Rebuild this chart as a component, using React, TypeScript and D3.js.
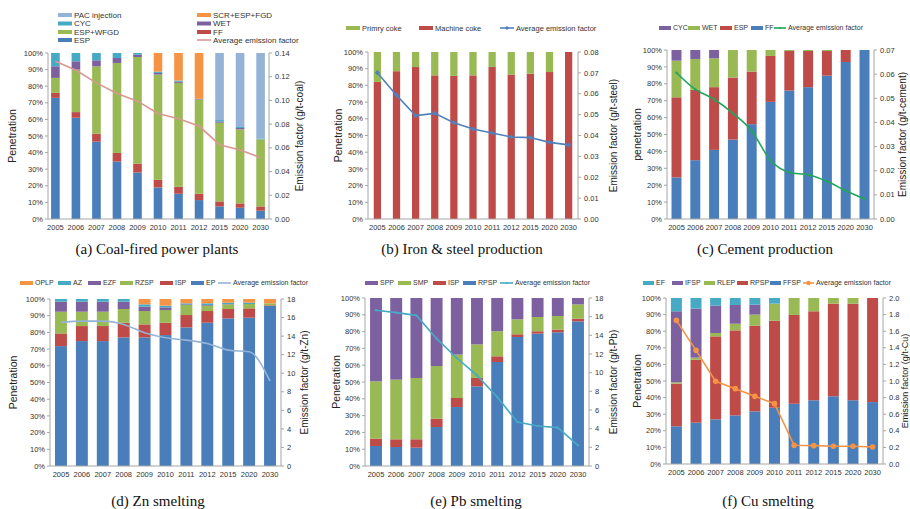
import * as d3 from "d3";

const years = ["2005", "2006", "2007", "2008", "2009", "2010", "2011", "2012", "2015", "2020", "2030"];
const pctTicks = [0, 10, 20, 30, 40, 50, 60, 70, 80, 90, 100];

// (a) coal-fired power plants, bottom to top
const coalESP = [73, 61, 46.6, 34.6, 28, 19, 15.2, 11.4, 7.6, 6.8, 5];
const coalFF = [3, 3.4, 4.8, 5.2, 5.4, 4.6, 4.2, 3.8, 3, 2.6, 2.6];
const coalWFGD = [9, 25.6, 40.6, 54.2, 64.2, 63.4, 62.6, 56.8, 47.4, 44.6, 40.4];
const coalWET = [7, 5, 3.6, 3, 1.4, 1, 0.8, 0.4, 0.8, 0.8, 0];
const coalCYC = [8, 5, 4.4, 3, 1, 0.8, 0.6, 0, 0.8, 0.6, 0.4];
const coalSCR = [0, 0, 0, 0, 0, 11.2, 16.6, 27.6, 0, 0, 0];
const coalPAC = [0, 0, 0, 0, 0, 0, 0, 0, 40.4, 44.6, 51.6];
const coalEF = [0.133, 0.1254, 0.1148, 0.1058, 0.0994, 0.089, 0.0846, 0.0784, 0.0627, 0.0582, 0.0518];

// (b) iron & steel
const steelMachine = [82.1, 88.5, 91, 86, 85.7, 86, 91, 86.5, 87, 88, 100];
const steelPrimary = [17.9, 11.5, 9, 14, 14.3, 14, 9, 13.5, 13, 12, 0];
const steelEF = [0.0701, 0.0593, 0.0495, 0.0506, 0.0461, 0.0431, 0.0412, 0.0393, 0.039, 0.0367, 0.0355];

// (c) cement
const cemFF = [24.6, 34.8, 40.9, 47, 56.1, 69.3, 76, 78, 84.8, 92.9, 100];
const cemESP = [47.4, 41.6, 37.1, 36.7, 31.1, 27.2, 23.4, 21.4, 14.6, 7.1, 0];
const cemWET = [21.7, 18.3, 17.1, 16.3, 12.8, 3.5, 0.6, 0.6, 0.6, 0, 0];
const cemCYC = [6.3, 5.3, 4.9, 0, 0, 0, 0, 0, 0, 0, 0];
const cemEF = [0.0606, 0.0537, 0.0496, 0.0438, 0.0365, 0.0243, 0.0193, 0.0183, 0.0156, 0.0117, 0.0083];

// (d) Zn smelting
const znEP = [71.8, 74.8, 74.8, 77, 77, 78.4, 83, 85.8, 88.4, 88.8, 95.8];
const znISP = [7.6, 9, 9, 8.8, 7.8, 7.4, 7.4, 7, 5.6, 5.6, 0.4];
const znRZSP = [13, 8.6, 8.6, 8.2, 8, 7.6, 6, 3.2, 2.8, 2.6, 1.2];
const znEZF = [6, 6, 6, 4.4, 2.6, 1.6, 0.4, 0.4, 0.2, 0, 0];
const znAZ = [1.6, 1.6, 1.6, 1.6, 1.4, 1, 0.6, 1, 0.8, 0.8, 0];
const znOPLP = [0, 0, 0, 0, 3.2, 4, 2.6, 2.6, 2.2, 2.2, 2.6];
const znEF = [15.48, 15.62, 15.62, 15.26, 14.36, 13.82, 13.57, 13.21, 12.49, 12.31, 9.14];

// (e) Pb smelting
const pbRPSP = [11.9, 11.3, 10.9, 23.2, 35.1, 47.4, 61.9, 76.8, 78.8, 79.6, 86.1];
const pbISP = [4.4, 4.6, 5, 5, 5.4, 5, 3.4, 1.6, 1.4, 1.6, 1.6];
const pbSMP = [34.1, 35.5, 36.5, 31.3, 25.8, 20, 14.9, 8.9, 8.5, 8.1, 8.5];
const pbSPP = [49.6, 48.6, 47.6, 40.5, 33.7, 27.6, 19.8, 12.7, 11.3, 10.7, 3.8];
const pbEF = [16.68, 16.43, 16.14, 13.64, 11.57, 9.71, 7.39, 4.71, 4.29, 4.11, 2.21];

// (f) Cu smelting
const cuFFSP = [22.7, 24.9, 26.9, 29.3, 31.7, 33.9, 36.3, 38.4, 40.8, 38.4, 37.3];
const cuRPSP = [25.7, 38, 50, 51.2, 51.6, 52.4, 53.5, 53.6, 55.8, 58.2, 62.7];
const cuRLEP = [0.8, 1.2, 2, 4, 6.7, 10.3, 10.2, 8, 3.4, 3.4, 0];
const cuIFSP = [42.8, 29.5, 16.5, 11.3, 6, 0, 0, 0, 0, 0, 0];
const cuEF = [8, 6.4, 4.6, 4.2, 4, 3.4, 0, 0, 0, 0, 0];
const cuAvgEF = [1.731, 1.369, 0.996, 0.908, 0.815, 0.727, 0.225, 0.221, 0.213, 0.213, 0.205];

const BLUE = "#4a7ebb";
const RED = "#be4b48";
const GREEN = "#98b954";
const PURPLE = "#7d60a0";
const TEAL = "#46aac5";
const ORANGE = "#f59444";
const LIGHTBLUE = "#95b3d7";

const FONT = "'Liberation Sans', Arial, sans-serif";

type Series = { name: string; values: number[]; color: string };
type LegendItem = { label: string; color: string; x: number; y: number; line?: boolean };

type PanelCfg = {
  series: Series[];
  ef: number[];
  efMax: number;
  efStep: number;
  efFmt: string;
  lineColor: string;
  marker: "none" | "diamond" | "circle" | "small";
  smooth?: boolean;
  left: number;
  right: number;
  bandL: number;
  bandR: number;
  pi: number;
  po: number;
  top: number;
  bottom: number;
  leftTitle: string;
  leftTitleX: number;
  rightTitle: string;
  rightTitleX: number;
  rightTitleSize?: number;
  legend: LegendItem[];
  legendFont: number;
  swatch: number;
  caption: string;
  captionX: number;
  captionY: number;
};

function Panel({ p }: { p: PanelCfg }) {
  const x = d3.scaleBand<string>().domain(years).range([p.bandL, p.bandR]).paddingInner(p.pi).paddingOuter(p.po);
  const y = d3.scaleLinear().domain([0, 100]).range([p.bottom, p.top]);
  const y2 = d3.scaleLinear().domain([0, p.efMax]).range([p.bottom, p.top]);
  const bw = x.bandwidth();
  const table = years.map((yr, i) => {
    const row: any = { year: yr };
    p.series.forEach((s) => (row[s.name] = s.values[i]));
    return row;
  });
  const stacked = d3.stack<any>().keys(p.series.map((s) => s.name))(table);
  const cx = (i: number) => (x(years[i]) as number) + bw / 2;
  const line = d3
    .line<number>()
    .x((_, i) => cx(i))
    .y((d) => y2(d))
    .curve(p.smooth ? d3.curveMonotoneX : d3.curveLinear);
  const efTicks = d3.range(0, p.efMax + p.efStep / 2, p.efStep);
  const fmt = d3.format(p.efFmt);
  const midY = (p.top + p.bottom) / 2;
  const axisColor = "#a6a6a6";

  const drawMarker = (mx: number, my: number, key: string | number, size = 1) => {
    if (p.marker === "diamond") {
      const s = 2.6 * size;
      return <path key={key} d={`M${mx},${my - s}L${mx + s},${my}L${mx},${my + s}L${mx - s},${my}Z`} fill={p.lineColor} />;
    }
    if (p.marker === "circle") return <circle key={key} cx={mx} cy={my} r={2.8 * size} fill={p.lineColor} />;
    if (p.marker === "small") return <circle key={key} cx={mx} cy={my} r={1.2 * size} fill={p.lineColor} />;
    return null;
  };

  return (
    <g>
      {stacked.map((layer, li) => (
        <g key={li} fill={p.series[li].color}>
          {layer.map((d, i) =>
            d[1] - d[0] > 0 ? (
              <rect key={i} x={x(years[i])} y={y(d[1])} width={bw} height={y(d[0]) - y(d[1])} />
            ) : null
          )}
        </g>
      ))}
      {/* axes */}
      <line x1={p.left} x2={p.left} y1={p.top} y2={p.bottom} stroke={axisColor} />
      <line x1={p.right} x2={p.right} y1={p.top} y2={p.bottom} stroke={axisColor} />
      <line x1={p.left} x2={p.right} y1={p.bottom} y2={p.bottom} stroke={axisColor} />
      {pctTicks.map((t) => (
        <g key={t}>
          <line x1={p.left - 3} x2={p.left} y1={y(t)} y2={y(t)} stroke={axisColor} />
          <text x={p.left - 5} y={y(t)} dy="0.35em" textAnchor="end" fontSize={7.5} fill="#333">
            {t + "%"}
          </text>
        </g>
      ))}
      {efTicks.map((t, i) => (
        <g key={i}>
          <line x1={p.right} x2={p.right + 3} y1={y2(t)} y2={y2(t)} stroke={axisColor} />
          <text x={p.right + 6} y={y2(t)} dy="0.35em" fontSize={7.5} fill="#333">
            {fmt(t)}
          </text>
        </g>
      ))}
      {years.map((yr, i) => (
        <text key={yr} x={cx(i)} y={p.bottom + 11} textAnchor="middle" fontSize={7.5} fill="#333">
          {yr}
        </text>
      ))}
      <text
        transform={`translate(${p.leftTitleX},${midY}) rotate(-90)`}
        textAnchor="middle"
        fontSize={10.5}
        fill="#222"
      >
        {p.leftTitle}
      </text>
      <text
        transform={`translate(${p.rightTitleX},${midY}) rotate(-90)`}
        textAnchor="middle"
        fontSize={p.rightTitleSize ?? 10}
        fill="#222"
      >
        {p.rightTitle}
      </text>
      {/* emission factor line */}
      <path d={line(p.ef) || ""} fill="none" stroke={p.lineColor} strokeWidth={1.6} />
      {p.ef.map((v, i) => drawMarker(cx(i), y2(v), i))}
      {/* legend */}
      {p.legend.map((it, i) => (
        <g key={i}>
          {it.line ? (
            <g>
              <line x1={it.x} x2={it.x + p.swatch} y1={it.y} y2={it.y} stroke={it.color} strokeWidth={1.6} />
              {drawMarker(it.x + p.swatch / 2, it.y, "m", 0.8)}
            </g>
          ) : (
            <rect x={it.x} y={it.y - 2} width={p.swatch} height={4} fill={it.color} />
          )}
          <text x={it.x + p.swatch + 2} y={it.y} dy="0.35em" fontSize={p.legendFont} fill="#333">
            {it.label}
          </text>
        </g>
      ))}
      <text
        x={p.captionX}
        y={p.captionY}
        textAnchor="middle"
        fontSize={15}
        fontFamily="'Liberation Serif', 'Times New Roman', serif"
        fill="#111"
      >
        {p.caption}
      </text>
    </g>
  );
}

const panels: PanelCfg[] = [
  {
    series: [
      { name: "ESP", values: coalESP, color: BLUE },
      { name: "FF", values: coalFF, color: RED },
      { name: "ESP+WFGD", values: coalWFGD, color: GREEN },
      { name: "WET", values: coalWET, color: PURPLE },
      { name: "CYC", values: coalCYC, color: TEAL },
      { name: "SCR+ESP+FGD", values: coalSCR, color: ORANGE },
      { name: "PAC injection", values: coalPAC, color: LIGHTBLUE },
    ],
    ef: coalEF,
    efMax: 0.14,
    efStep: 0.02,
    efFmt: ".2f",
    lineColor: "#d99694",
    marker: "none",
    left: 48,
    right: 269,
    bandL: 47,
    bandR: 269,
    pi: 0.58,
    po: 0.2,
    top: 53,
    bottom: 219,
    leftTitle: "Penetration",
    leftTitleX: 16,
    rightTitle: "Emission factor (g/t-coal)",
    rightTitleX: 303,
    legend: [
      { label: "PAC injection", color: LIGHTBLUE, x: 58, y: 15 },
      { label: "SCR+ESP+FGD", color: ORANGE, x: 197, y: 15 },
      { label: "CYC", color: TEAL, x: 58, y: 23.5 },
      { label: "WET", color: PURPLE, x: 197, y: 23.5 },
      { label: "ESP+WFGD", color: GREEN, x: 58, y: 32 },
      { label: "FF", color: RED, x: 197, y: 32 },
      { label: "ESP", color: BLUE, x: 58, y: 40 },
      { label: "Average emission factor", color: "#d99694", x: 197, y: 40, line: true },
    ],
    legendFont: 8,
    swatch: 14,
    caption: "(a) Coal-fired power plants",
    captionX: 157,
    captionY: 254,
  },
  {
    series: [
      { name: "Machine coke", values: steelMachine, color: RED },
      { name: "Primry coke", values: steelPrimary, color: GREEN },
    ],
    ef: steelEF,
    efMax: 0.08,
    efStep: 0.01,
    efFmt: ".2f",
    lineColor: "#4f81bd",
    marker: "diamond",
    left: 368,
    right: 578,
    bandL: 368,
    bandR: 578,
    pi: 0.62,
    po: 0.3,
    top: 52,
    bottom: 219,
    leftTitle: "Penetration",
    leftTitleX: 342,
    rightTitle: "Emission factor (g/t-steel)",
    rightTitleX: 617,
    legend: [
      { label: "Primry coke", color: GREEN, x: 346, y: 28 },
      { label: "Machine coke", color: RED, x: 419, y: 28 },
      { label: "Average emission factor", color: "#4f81bd", x: 500, y: 28, line: true },
    ],
    legendFont: 7.5,
    swatch: 14,
    caption: "(b) Iron & steel production",
    captionX: 462,
    captionY: 254,
  },
  {
    series: [
      { name: "FF", values: cemFF, color: BLUE },
      { name: "ESP", values: cemESP, color: RED },
      { name: "WET", values: cemWET, color: GREEN },
      { name: "CYC", values: cemCYC, color: PURPLE },
    ],
    ef: cemEF,
    efMax: 0.07,
    efStep: 0.01,
    efFmt: ".2f",
    lineColor: "#1fa65a",
    marker: "small",
    smooth: true,
    left: 667,
    right: 874,
    bandL: 667,
    bandR: 874,
    pi: 0.47,
    po: 0.24,
    top: 50,
    bottom: 219,
    leftTitle: "penetration",
    leftTitleX: 641,
    rightTitle: "Emission factor (g/t-cement)",
    rightTitleX: 906,
    legend: [
      { label: "CYC", color: PURPLE, x: 659, y: 28 },
      { label: "WET", color: GREEN, x: 688, y: 28 },
      { label: "ESP", color: RED, x: 720, y: 28 },
      { label: "FF", color: BLUE, x: 751, y: 28 },
      { label: "Average emission factor", color: "#1fa65a", x: 774, y: 28, line: true },
    ],
    legendFont: 7,
    swatch: 12,
    caption: "(c) Cement production",
    captionX: 765,
    captionY: 254,
  },
  {
    series: [
      { name: "EP", values: znEP, color: BLUE },
      { name: "ISP", values: znISP, color: RED },
      { name: "RZSP", values: znRZSP, color: GREEN },
      { name: "EZF", values: znEZF, color: PURPLE },
      { name: "AZ", values: znAZ, color: TEAL },
      { name: "OPLP", values: znOPLP, color: ORANGE },
    ],
    ef: znEF,
    efMax: 18,
    efStep: 2,
    efFmt: "d",
    lineColor: LIGHTBLUE,
    marker: "none",
    smooth: true,
    left: 50,
    right: 281,
    bandL: 50,
    bandR: 281,
    pi: 0.43,
    po: 0.24,
    top: 299,
    bottom: 466,
    leftTitle: "Penetration",
    leftTitleX: 17,
    rightTitle: "Emission factor (g/t-Zn)",
    rightTitleX: 308,
    legend: [
      { label: "OPLP", color: ORANGE, x: 20, y: 283 },
      { label: "AZ", color: TEAL, x: 58, y: 283 },
      { label: "EZF", color: PURPLE, x: 88, y: 283 },
      { label: "RZSP", color: GREEN, x: 120, y: 283 },
      { label: "ISP", color: RED, x: 160, y: 283 },
      { label: "EP", color: BLUE, x: 191, y: 283 },
      { label: "Average emission factor", color: LIGHTBLUE, x: 218, y: 283, line: true },
    ],
    legendFont: 7,
    swatch: 13,
    caption: "(d) Zn smelting",
    captionX: 158,
    captionY: 506,
  },
  {
    series: [
      { name: "RPSP", values: pbRPSP, color: BLUE },
      { name: "ISP", values: pbISP, color: RED },
      { name: "SMP", values: pbSMP, color: GREEN },
      { name: "SPP", values: pbSPP, color: PURPLE },
    ],
    ef: pbEF,
    efMax: 18,
    efStep: 2,
    efFmt: "d",
    lineColor: TEAL,
    marker: "small",
    left: 365,
    right: 589,
    bandL: 365,
    bandR: 589,
    pi: 0.41,
    po: 0.25,
    top: 298,
    bottom: 466,
    leftTitle: "Penetration",
    leftTitleX: 340,
    rightTitle: "Emission factor (g/t-Pb)",
    rightTitleX: 617,
    legend: [
      { label: "SPP", color: PURPLE, x: 365, y: 283 },
      { label: "SMP", color: GREEN, x: 398, y: 283 },
      { label: "ISP", color: RED, x: 433, y: 283 },
      { label: "RPSP", color: BLUE, x: 463, y: 283 },
      { label: "Average emission factor", color: TEAL, x: 500, y: 283, line: true },
    ],
    legendFont: 7,
    swatch: 13,
    caption: "(e) Pb smelting",
    captionX: 476,
    captionY: 506,
  },
  {
    series: [
      { name: "FFSP", values: cuFFSP, color: BLUE },
      { name: "RPSP", values: cuRPSP, color: RED },
      { name: "RLEP", values: cuRLEP, color: GREEN },
      { name: "IFSP", values: cuIFSP, color: PURPLE },
      { name: "EF", values: cuEF, color: TEAL },
    ],
    ef: cuAvgEF,
    efMax: 2,
    efStep: 0.2,
    efFmt: ".1f",
    lineColor: ORANGE,
    marker: "circle",
    left: 666,
    right: 883,
    bandL: 666,
    bandR: 883,
    pi: 0.44,
    po: 0.25,
    top: 298,
    bottom: 464,
    leftTitle: "Penetration",
    leftTitleX: 641,
    rightTitle: "Emission factor (g/t-Cu)",
    rightTitleX: 908,
    rightTitleSize: 9,
    legend: [
      { label: "EF", color: TEAL, x: 643, y: 283 },
      { label: "IFSP", color: PURPLE, x: 672, y: 283 },
      { label: "RLEP", color: GREEN, x: 704, y: 283 },
      { label: "RPSP", color: RED, x: 737, y: 283 },
      { label: "FFSP", color: BLUE, x: 770, y: 283 },
      { label: "Average emission factor", color: ORANGE, x: 803, y: 283, line: true },
    ],
    legendFont: 7,
    swatch: 11,
    caption: "(f) Cu smelting",
    captionX: 768,
    captionY: 506,
  },
];

export default function App() {
  return (
    <svg
      width={910}
      height={509}
      style={{ position: "absolute", left: 0, top: 0, background: "#fff" }}
      fontFamily={FONT}
    >
      <rect width={910} height={509} fill="#fff" />
      {panels.map((p, i) => (
        <Panel key={i} p={p} />
      ))}
    </svg>
  );
}
